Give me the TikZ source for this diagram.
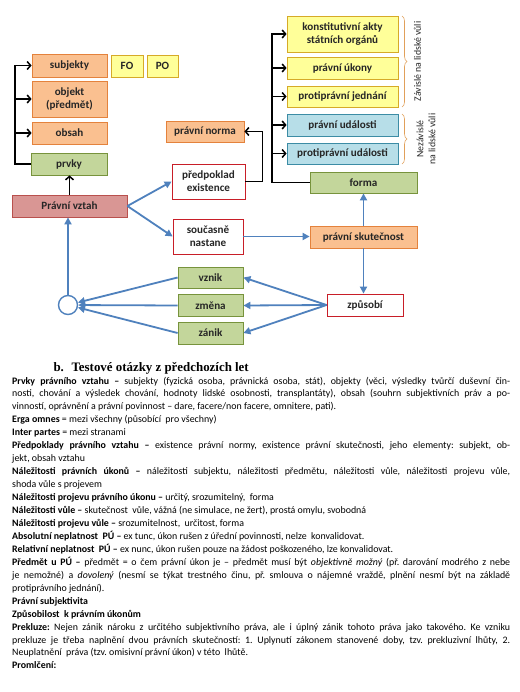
\documentclass[tikz,border=0pt]{standalone}
\usepackage{fontspec}
\setmainfont{Carlito}
\newfontfamily\headfont{Liberation Serif}
\usepackage{xcolor}
\usepackage{tikz}
\usetikzlibrary{shapes,arrows.meta,positioning,calc,decorations.pathreplacing}
\definecolor{orangefill}{RGB}{250,192,144}
\definecolor{orangeline}{RGB}{228,130,60}
\definecolor{yellowfill}{RGB}{255,255,153}
\definecolor{yellowline}{RGB}{214,170,40}
\definecolor{bluefill}{RGB}{183,222,232}
\definecolor{blueline}{RGB}{60,140,165}
\definecolor{greenfill}{RGB}{195,214,155}
\definecolor{greenline}{RGB}{119,147,60}
\definecolor{rosefill}{RGB}{217,150,148}
\definecolor{roseline}{RGB}{185,80,77}
\definecolor{redline}{RGB}{200,30,40}
\definecolor{arrowblue}{RGB}{79,129,189}
\definecolor{bracecol}{RGB}{225,160,90}

\begin{document}
\begin{tikzpicture}[x=1pt, y=-1pt,
    box/.style={draw, line width=0.8pt, inner sep=1pt, align=center, text=black!85,
        font=\bfseries\fontsize{11.1}{13}\selectfont},
    orangebox/.style={box, fill=orangefill, draw=orangeline},
    yellowbox/.style={box, fill=yellowfill, draw=yellowline},
    bluebox/.style={box, fill=bluefill, draw=blueline},
    greenbox/.style={box, fill=greenfill, draw=greenline},
    redbox/.style={box, fill=white, draw=redline},
    blk/.style={line width=1.5pt, -{Straight Barb[length=3.5pt,width=8pt]}},
    blu/.style={draw=arrowblue, line width=1.8pt, -{Triangle[length=7pt,width=7pt]}, arrowblue},
    bracket/.style={draw=bracecol, line width=0.6pt, decorate, decoration={brace, amplitude=5pt}},
    sidenote/.style={rotate=90, align=center, text=black!85, font=\fontsize{9.8}{12}\selectfont}]
    \useasboundingbox (0,0) rectangle (519,692);
    \fill[white] (0,0) rectangle (519,692);

    % Left column
    \node[orangebox, minimum width=75pt, minimum height=23pt] (subj) at (69.5,65.5) {subjekty};
    \node[yellowbox, minimum width=32pt, minimum height=22pt] (fo) at (127,66) {FO};
    \node[yellowbox, minimum width=31pt, minimum height=22pt] (po) at (162.5,66) {PO};
    \node[orangebox, minimum width=75pt, minimum height=36pt] (obj) at (69.5,99) {objekt\\(předmět)};
    \node[orangebox, minimum width=75pt, minimum height=22pt] (obsah) at (69.5,133) {obsah};
    \node[greenbox, minimum width=76pt, minimum height=22pt] (prvky) at (69,164) {prvky};
    \node[box, fill=rosefill, draw=roseline, minimum width=115pt, minimum height=22pt] (vztah) at (69.5,206) {Právní vztah};

    % Middle column
    \node[orangebox, minimum width=78pt, minimum height=21pt] (norma) at (205,131.5) {právní norma};
    \node[redbox, minimum width=73pt, minimum height=35pt] (predpoklad) at (208.5,181.5) {předpoklad\\existence};
    \node[redbox, minimum width=70pt, minimum height=35pt] (soucasne) at (208,236.5) {současně\\nastane};
    \node[greenbox, minimum width=65pt, minimum height=21pt] (vznik) at (210.5,277.5) {vznik};
    \node[greenbox, minimum width=65pt, minimum height=22pt] (zmena) at (210.5,305.5) {změna};
    \node[greenbox, minimum width=65pt, minimum height=22pt] (zanik) at (210.5,333) {zánik};
    \node[circle, draw=arrowblue, line width=1.4pt, fill=white, minimum size=19pt, inner sep=0pt] (kruh) at (68,305) {};

    % Right column
    \node[yellowbox, minimum width=111pt, minimum height=36pt] (akty) at (342.5,34) {konstitutivní akty\\státních orgánů};
    \node[yellowbox, minimum width=111pt, minimum height=22pt] (ukony) at (342.5,68) {právní úkony};
    \node[yellowbox, minimum width=111pt, minimum height=21pt] (jednani) at (342.5,96.5) {protiprávní jednání};
    \node[bluebox, minimum width=111pt, minimum height=22pt] (udalosti) at (342.5,125) {právní události};
    \node[bluebox, minimum width=111pt, minimum height=21pt] (protiudalosti) at (342.5,153.5) {protiprávní události};
    \node[greenbox, minimum width=107pt, minimum height=21pt] (forma) at (363.5,182.5) {forma};
    \node[orangebox, minimum width=107pt, minimum height=22pt] (skut) at (363.5,237) {právní skutečnost};
    \node[redbox, minimum width=76pt, minimum height=22pt] (zpusobi) at (365,305) {způsobí};

    % Braces
    \draw[bracket] (402,16) -- (402,107);
    \draw[bracket] (402,114) -- (402,164);
    \node[sidenote] (zavisle) at (417.5,61.5) {Závislé na lidské vůli};
    \node[sidenote] (nezavisle) at (426,139) {Nezávislé\\na lidské vůli};

    % Black arrows
    \coordinate (railL) at (15,164);
    \draw[blk] (prvky.west) -- (railL) |- (subj.west);
    \foreach \n in {obj,obsah}
        \draw[blk] (railL |- \n.west) -- (\n.west);
    \draw[blk] (vztah.north) -- (vztah.north |- prvky.south);
    \draw[blk] (predpoklad.east) -- ++(17,0) |- (norma.east);
    \coordinate (railR) at (272,182.5);
    \draw[blk] (forma.west) -- (railR) |- (akty.west);
    \foreach \n in {ukony,jednani,udalosti,protiudalosti}
        \draw[blk] (railR |- \n.west) -- (\n.west);

    % Blue arrows
    \draw[blu] (vztah.east) -- (predpoklad.west);
    \draw[blu] (vztah.east) -- (soucasne.west);
    \draw[blu] (soucasne.east) -- (soucasne.east -| skut.west);
    \draw[blu] (skut.north) -- (forma.south);
    \draw[blu] (skut.south) -- (skut.south |- zpusobi.north);
    \foreach \n in {vznik,zmena,zanik} {
        \draw[blu] (zpusobi.west) -- (\n.east);
        \draw[blu] (\n.west) -- (kruh);
    }
    \draw[blu] (kruh.north) -- (kruh.north |- vztah.south);

    % Text below
    \node[anchor=base west, font=\headfont\bfseries\fontsize{12.9}{15}\selectfont] (bmark) at (50,371) {b.};
    \node[anchor=base west, font=\headfont\bfseries\fontsize{12.9}{15}\selectfont] (heading) at (68,371) {Testové otázky z předchozích let};
    \node[anchor=base west, text width=498pt, align=justify, inner sep=0pt,
        font=\fontsize{9.9}{12.95}\selectfont] (body) at (12,384) {\frenchspacing\hyphenpenalty=10000\tolerance=10000\hbadness=10000
{\bfseries Prvky právního vztahu –} subjekty (fyzická osoba, právnická osoba, stát), objekty (věci, výsledky tvůrčí duševní čin-\linebreak
nosti, chování a výsledek chování, hodnoty lidské osobnosti, transplantáty), obsah (souhrn subjektivních práv a po-\linebreak
vinností, oprávnění a právní povinnost – dare, facere/non facere, omnitere, pati).\par
{\bfseries Erga omnes} = mezi všechny (působící\ \ pro všechny)\par
{\bfseries Inter partes} = mezi stranami\par
{\bfseries Předpoklady právního vztahu –} existence právní normy, existence právní skutečnosti, jeho elementy: subjekt, ob-\linebreak
jekt, obsah vztahu\par
{\bfseries Náležitosti právních úkonů –} náležitosti subjektu, náležitosti předmětu, náležitosti vůle, náležitosti projevu vůle,\linebreak
shoda vůle s projevem\par
{\bfseries Náležitosti projevu právního úkonu –} určitý, srozumitelný,\ \ forma\par
{\bfseries Náležitosti vůle –} skutečnost\ \ vůle, vážná (ne simulace, ne žert), prostá omylu, svobodná\par
{\bfseries Náležitosti projevu vůle –} srozumitelnost,\ \ určitost, forma\par
{\bfseries Absolutní neplatnost\ \ PÚ –} ex tunc, úkon rušen z úřední povinnosti, nelze\ \ konvalidovat.\par
{\bfseries Relativní neplatnost\ \ PÚ –} ex nunc, úkon rušen pouze na žádost poškozeného, lze konvalidovat.\par
{\bfseries Předmět u PÚ –} předmět = o čem právní úkon je – předmět musí být \textit{objektivně možný} (př. darování modrého z nebe\linebreak
je nemožné) a \textit{dovolený} (nesmí se týkat trestného činu, př. smlouva o nájemné vraždě, plnění nesmí být na základě\linebreak
protiprávního jednání).\par
{\bfseries Právní subjektivita}\par
{\bfseries Způsobilost\ \ k právním úkonům}\par
{\bfseries Prekluze:} Nejen zánik nároku z určitého subjektivního práva, ale i úplný zánik tohoto práva jako takového. Ke vzniku\linebreak
prekluze je třeba naplnění dvou právních skutečností: 1. Uplynutí zákonem stanovené doby, tzv. prekluzivní lhůty, 2.\linebreak
Neuplatnění\ \ práva (tzv. omisivní právní úkon) v této\ \ lhůtě.\par
{\bfseries Promlčení:}};
\end{tikzpicture}
\end{document}
